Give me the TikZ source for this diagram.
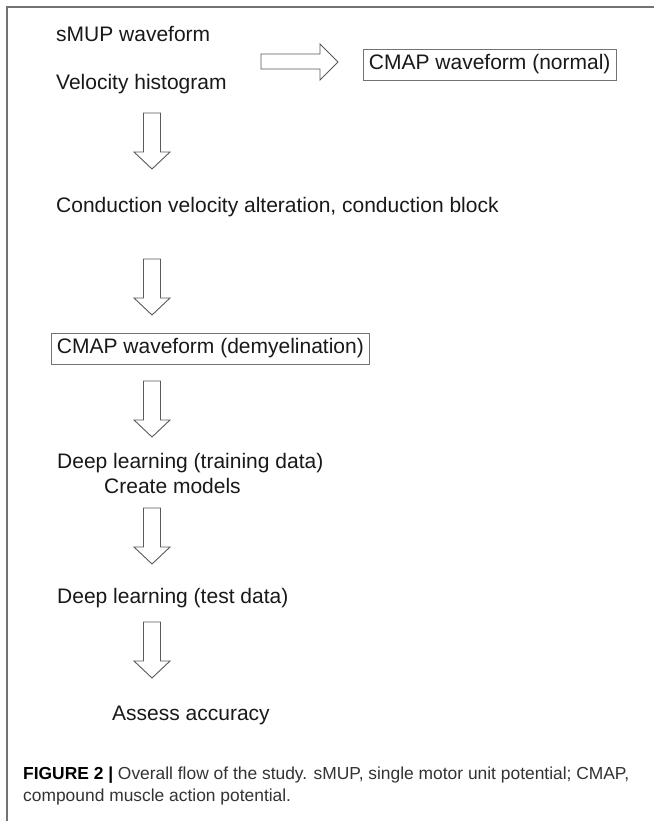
\documentclass[tikz,border=0pt]{standalone}
\usepackage{fontspec}
\setmainfont{Liberation Sans}
\begin{document}
\begin{tikzpicture}[x=1pt,y=-1pt,
  txt/.style={anchor=base west,inner sep=0pt,text=black!90,font=\fontsize{21}{25}\selectfont},
  boxed/.style={draw=black!55,line width=0.9pt,anchor=west,inner xsep=5.5pt,inner ysep=0pt,minimum height=31pt,text=black!90,font=\fontsize{21}{25}\selectfont},
  blockarrow/.style={draw=black!65,line width=0.9pt,fill=white,line join=miter},
  framerule/.style={draw=black!55,line width=1.3pt},
  captxt/.style={anchor=base west,inner sep=0pt,text=black!80,font=\fontsize{17.4}{20}\selectfont},
  downarr/.pic={\draw[blockarrow] (-8.5,0) -- (-8.5,39) -- (-18,39) -- (0,56) -- (18,39) -- (8.5,39) -- (8.5,0) -- cycle;}
]
\useasboundingbox (0,0) rectangle (654,821);
\fill[white] (0,0) rectangle (654,821);
\draw[framerule] (7,821) -- (7,7) -- (654,7);

\node[txt] (smup) at (56,41.5) {sMUP waveform};
\node[txt] (velo) at (56,89.5) {Velocity histogram};
\draw[blockarrow] (261,54) -- (320,54) -- (320,44) -- (338,62) -- (320,80) -- (320,69) -- (261,69) -- cycle;
\node[boxed] (normal) at (363,64.5) {CMAP waveform (normal)};

\pic at (152,113) {downarr};
\node[txt] (cond) at (56,212.5) {Conduction velocity alteration, conduction block};

\pic at (152,259) {downarr};
\node[boxed] (demy) at (51,348.5) {CMAP waveform (demyelination)};

\pic at (152,381) {downarr};
\node[txt] (train) at (57,468.5) {Deep learning (training data)};
\node[txt] (create) at (104,493.5) {Create models};

\pic at (152,508) {downarr};
\node[txt] (test) at (57,603.5) {Deep learning (test data)};

\pic at (152,622) {downarr};
\node[txt] (assess) at (112,720.5) {Assess accuracy};

\node[captxt] (cap1) at (23,779) {\textcolor{black}{\textbf{FIGURE 2 |}} Overall flow of the study. sMUP, single motor unit potential; CMAP,};
\node[captxt] (cap2) at (23,801) {compound muscle action potential.};
\end{tikzpicture}
\end{document}
